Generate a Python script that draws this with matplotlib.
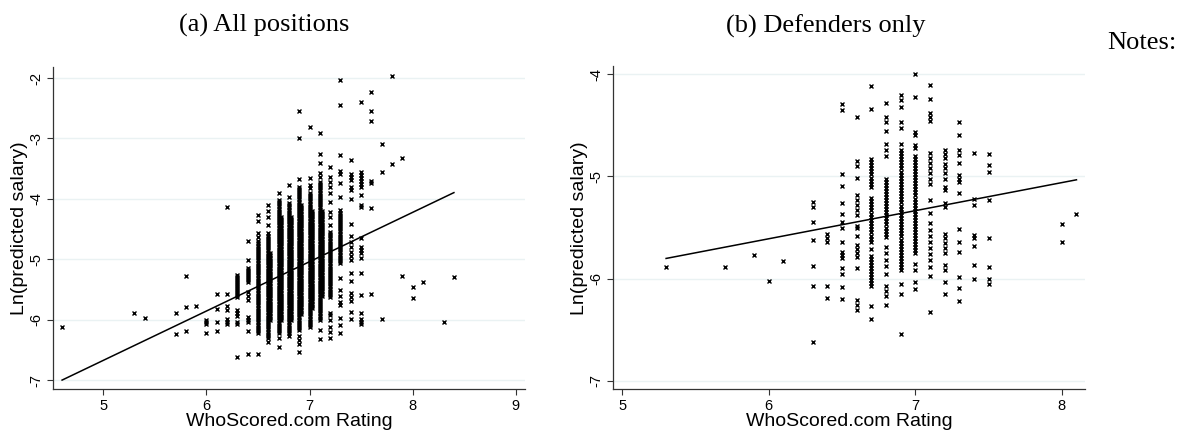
import numpy as np
import matplotlib
matplotlib.use("Agg")
import matplotlib.pyplot as plt

# ---- data ----
# panel (a): isolated markers per rating column
a_x = [4.6, 5.3, 5.4, 5.7, 5.8, 5.9, 6.0, 6.1, 6.2, 6.3, 6.4, 6.5, 6.6, 6.7, 6.8,
       6.9, 7.0, 7.1, 7.2, 7.3, 7.4, 7.5, 7.6, 7.7, 7.8, 7.9, 8.0, 8.1, 8.3, 8.4]
a_y = [
    [-6.12],
    [-5.89],
    [-5.97],
    [-5.89, -6.24],
    [-5.28, -5.79, -6.19],
    [-5.77],
    [-6.0, -6.03, -6.07, -6.22],
    [-5.58, -5.82, -6.04, -6.19],
    [-4.14, -5.58, -5.77, -5.84, -5.99, -6.03, -6.07],
    [-5.84, -5.88, -5.93, -6.03, -6.07, -6.62],
    [-4.69, -5.01, -5.54, -5.6, -5.67, -5.95, -6.0, -6.03, -6.19, -6.56],
    [-4.27, -4.37, -4.57, -4.63, -6.57],
    [-4.1, -4.2, -4.3, -4.43, -6.37],
    [-3.9, -6.3, -6.45],
    [-3.77, -3.97, -6.27],
    [-2.55, -2.99, -3.67, -6.27, -6.34, -6.4, -6.54],
    [-2.81, -3.65, -3.77, -3.82],
    [-2.91, -3.25, -3.41, -3.57, -3.64, -6.17, -6.32],
    [-3.47, -3.64, -3.72, -3.8, -3.9, -4.05, -4.22, -4.3, -4.43,
     -5.88, -5.92, -6.0, -6.12, -6.2, -6.3],
    [-2.03, -2.45, -3.27, -3.54, -3.59, -3.74, -3.97,
     -5.31, -5.5, -5.6, -5.7, -5.76, -5.97, -6.08, -6.22],
    [-3.36, -3.59, -3.64, -3.69, -3.8, -3.85, -4.0, -4.42, -4.62, -4.72, -4.8,
     -4.88, -4.95, -5.01, -5.23, -5.35, -5.56, -5.62, -5.68, -5.87, -5.99],
    [-2.39, -3.56, -3.6, -3.65, -3.7, -3.76, -3.8, -3.94, -4.1, -4.13, -4.65,
     -4.8, -4.85, -4.9, -4.98, -5.23, -5.59, -5.89, -5.99, -6.03, -6.07],
    [-2.23, -2.55, -2.71, -3.71, -3.74, -4.15, -5.58],
    [-3.09, -3.56, -5.99],
    [-1.96, -3.42],
    [-3.32, -5.28],
    [-5.46, -5.64],
    [-5.37],
    [-6.03],
    [-5.29],
]
# panel (a): solid runs of overlapping markers (rating, low, high)
a_runs = [(6.3, -5.62, -5.25), (6.4, -5.38, -5.15), (6.5, -6.22, -4.7),
          (6.6, -6.3, -4.57), (6.7, -6.22, -4.02), (6.8, -6.22, -4.07),
          (6.9, -6.17, -3.8), (7.0, -6.12, -3.9), (7.1, -6.0, -3.72),
          (7.2, -5.62, -4.55), (7.3, -5.06, -4.19),
          # columns look a little wider than one marker in the middle
          (6.62, -6.0, -4.9), (6.72, -6.0, -4.3), (6.82, -6.0, -4.3),
          (6.92, -5.9, -4.1), (7.02, -5.8, -4.2), (7.12, -5.6, -4.2)]
a_fit = (-10.75, 0.816)   # intercept, slope

# panel (b)
b_x = [5.3, 5.7, 5.9, 6.0, 6.1, 6.3, 6.4, 6.5, 6.6, 6.7, 6.8, 6.9, 7.0,
       7.1, 7.2, 7.3, 7.4, 7.5, 8.0, 8.1]
b_y = [
    [-5.89],
    [-5.89],
    [-5.77],
    [-6.02],
    [-5.83],
    [-5.25, -5.3, -5.45, -5.62, -5.88, -6.07, -6.62],
    [-5.56, -5.6, -5.64, -6.07, -6.19],
    [-4.29, -4.35, -4.98, -5.09, -5.26, -5.37, -5.45, -5.5, -5.64, -5.74,
     -5.77, -5.8, -5.9, -5.95, -6.08, -6.2],
    [-4.42, -4.85, -4.9, -5.01, -5.18, -5.23, -5.28, -5.33, -5.38, -5.48, -5.5,
     -5.58, -5.67, -5.71, -5.75, -5.79, -5.9, -6.21, -6.26, -6.31],
    [-4.11, -4.34, -5.71, -6.27, -6.4],
    [-4.28, -4.42, -4.47, -4.55, -4.68, -4.74, -4.8, -5.69, -5.75, -5.82,
     -5.88, -5.95, -6.07, -6.12, -6.17, -6.26],
    [-4.2, -4.25, -4.32, -4.47, -4.53, -4.68, -6.05, -6.15, -6.54],
    [-4.0, -4.22, -4.56, -4.59, -4.69, -4.72, -5.86, -5.92, -6.03, -6.1],
    [-4.1, -4.24, -4.38, -4.42, -4.46, -4.77, -4.82, -4.87, -4.92, -4.97,
     -5.02, -5.07, -5.23, -5.36, -5.46, -5.52, -5.58, -5.64, -5.7, -5.76,
     -5.82, -5.89, -5.97, -6.33],
    [-4.74, -4.78, -4.82, -4.88, -4.92, -4.97, -5.02, -5.1, -5.13, -5.26,
     -5.3, -5.56, -5.6, -5.65, -5.7, -5.75, -5.87, -5.92, -6.03, -6.15],
    [-4.47, -4.59, -4.74, -4.79, -4.87, -4.99, -5.02, -5.05, -5.16, -5.51,
     -5.64, -5.74, -5.98, -6.09, -6.22],
    [-4.77, -5.22, -5.28, -5.57, -5.6, -5.68, -5.87, -6.0],
    [-4.78, -4.89, -4.96, -5.23, -5.6, -5.89, -6.0, -6.05],
    [-5.47, -5.64],
    [-5.37],
]
b_runs = [(6.7, -5.64, -5.21), (6.7, -5.1, -4.83), (6.7, -6.07, -5.78),
          (6.8, -5.59, -5.02), (6.9, -5.92, -4.74), (7.0, -5.75, -4.8)]
b_fit = (-7.26, 0.275)

a_yticks = [-2, -3, -4, -5, -6, -7]
a_xticks = [5, 6, 7, 8, 9]
b_yticks = [-4, -5, -6, -7]
b_xticks = [5, 6, 7, 8]

GRID = '#EAF2F3'
SANS = 'Liberation Sans'
SERIF = 'Liberation Serif'


def collect(xs, ys, runs, step):
    px, py = [], []
    for x, col in zip(xs, ys):
        px += [x] * len(col)
        py += col
    for x, lo, hi in runs:
        n = int(round((hi - lo) / step)) + 1
        vals = np.linspace(lo, hi, n)
        px += [x] * n
        py += list(vals)
    return px, py


def style(ax, xlim, ylim, xticks, yticks):
    ax.set_xlim(*xlim)
    ax.set_ylim(*ylim)
    ax.set_xticks(xticks)
    ax.set_yticks(yticks)
    ax.set_yticklabels([str(t) for t in yticks], rotation=90, va='center')
    for t in ax.get_xticklabels() + ax.get_yticklabels():
        t.set_fontfamily(SANS)
        t.set_fontsize(10.5)
    ax.grid(axis='y', color=GRID, lw=1.0)
    ax.set_axisbelow(True)
    ax.spines['top'].set_visible(False)
    ax.spines['right'].set_visible(False)
    for s in ('left', 'bottom'):
        ax.spines[s].set_color('#333333')
        ax.spines[s].set_linewidth(0.9)
    ax.tick_params(colors='#333333', length=4, width=0.8, labelcolor='black', pad=3)
    ax.set_xlabel('WhoScored.com Rating', fontfamily=SANS, fontsize=14, labelpad=0)
    ax.set_ylabel('Ln(predicted salary)', fontfamily=SANS, fontsize=14)
    ax.yaxis.set_label_coords(-0.054, 0.5)


fig = plt.figure(figsize=(11.77, 4.32), dpi=100)
ax1 = fig.add_axes([0.0453, 0.0988, 0.4008, 0.7468])
ax2 = fig.add_axes([0.5211, 0.0988, 0.4007, 0.7480])

px, py = collect(a_x, a_y, a_runs, 0.035)
ax1.plot(px, py, 'x', color='black', ms=3.0, mew=1.0, ls='none')
xl = np.array([min(a_x), max(a_x)])
ax1.plot(xl, a_fit[0] + a_fit[1] * xl, color='black', lw=1.1)
style(ax1, (4.515, 9.09), (-7.149, -1.813), a_xticks, a_yticks)

px, py = collect(b_x, b_y, b_runs, 0.03)
ax2.plot(px, py, 'x', color='black', ms=3.0, mew=1.0, ls='none')
xl = np.array([min(b_x), max(b_x)])
ax2.plot(xl, b_fit[0] + b_fit[1] * xl, color='black', lw=1.1)
style(ax2, (4.94, 8.158), (-7.084, -3.92), b_xticks, b_yticks)

fig.text(0.2247, 0.94, '(a) All positions', ha='center', va='center',
         fontfamily=SERIF, fontsize=19)
fig.text(0.7018, 0.94, '(b) Defenders only', ha='center', va='center',
         fontfamily=SERIF, fontsize=19)
fig.text(0.9405, 0.90, 'Notes:', ha='left', va='center',
         fontfamily=SERIF, fontsize=19)

fig.savefig('out.png', dpi=100)
